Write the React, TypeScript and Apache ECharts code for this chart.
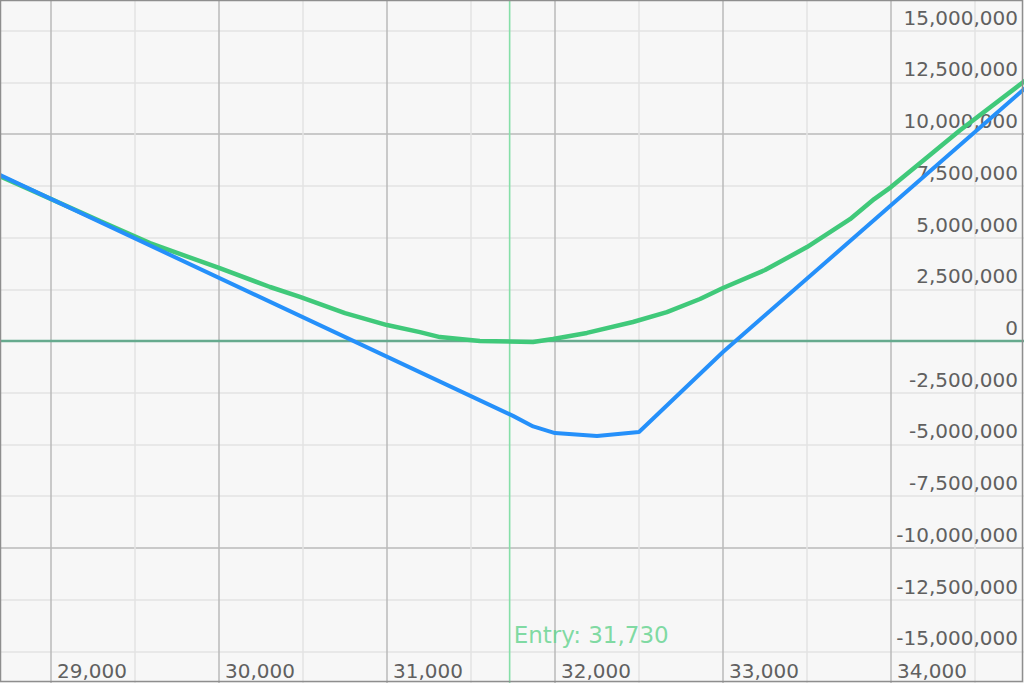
import React, { useEffect, useRef } from "react";
import * as echarts from "echarts";

// Axis ranges / ticks
const xMin = 28500;
const xMax = 35000;
const xStep = 500;
const xLabelStep = 1000;
const yMin = -17500000;
const yMax = 17500000;
const yStep = 2500000;
const yMajorAbs = 10000000;

// Entry
const entryPrice = 31730;
const entryLabel = "Entry: 31,730";
const entryLabelLevel = -14200000;

// Blue series (at expiry)
const bluePrices = [28600, 31750, 31870, 32000, 32250, 32500, 33000, 34000, 35000];
const bluePnl = [8390000, -3620000, -4130000, -4450000, -4590000, -4400000, -530000, 6560000, 13650000];

// Green series (current)
const greenPrices = [
  28600, 28696, 29292, 29589, 30000, 30304, 30482, 30750, 31000, 31196, 31315, 31553, 31869,
  31988, 32190, 32464, 32666, 32863, 33000, 33250, 33500, 33756, 33900, 34000, 34232, 34411, 34786,
  35000,
];
const greenPnl = [
  8360000, 7970000, 5800000, 4730000, 3530000, 2610000, 2130000, 1350000, 770000, 430000, 190000, 0,
  -50000, 100000, 390000, 920000, 1400000, 2030000, 2560000, 3430000, 4540000, 5890000, 6860000,
  7440000, 8990000, 10190000, 12510000, 13830000,
];

const fmt = (v: number) => Math.round(v).toLocaleString("en-US");

export default function App() {
  const ref = useRef<HTMLDivElement>(null);
  useEffect(() => {
    if (!ref.current) return;
    const chart = echarts.init(ref.current, undefined, { renderer: "svg" });

    const yTicks: number[] = [];
    for (let v = yMin; v <= yMax; v += yStep) yTicks.push(v);
    const yColors = yTicks.map((v) => (Math.abs(v) === yMajorAbs ? "#bababa" : "#e3e3e3"));

    const font = "DejaVu Sans";
    chart.setOption({
      animation: false,
      backgroundColor: "#f7f7f7",
      grid: {
        left: -33,
        right: -35,
        top: -21,
        bottom: -20,
        containLabel: false,
        outerBoundsMode: "none",
      },
      xAxis: {
        type: "value",
        min: xMin,
        max: xMax,
        interval: xStep,
        axisLine: { show: false },
        axisTick: { show: false },
        splitLine: { show: true, lineStyle: { color: ["#e3e3e3", "#bababa"], width: 1.5 } },
        axisLabel: {
          inside: true,
          margin: 22,
          align: "left",
          padding: [0, 0, 0, 6],
          color: "#606060",
          fontFamily: font,
          fontSize: 20,
          lineHeight: 20,
          formatter: (v: number) => (v % xLabelStep === 0 && v < xMax ? fmt(v) : ""),
        },
      },
      yAxis: {
        type: "value",
        position: "right",
        min: yMin,
        max: yMax,
        interval: yStep,
        axisLine: { show: false },
        axisTick: { show: false },
        splitLine: { show: true, lineStyle: { color: yColors, width: 1.5 } },
        axisLabel: {
          inside: true,
          margin: 41,
          verticalAlign: "bottom",
          padding: [0, 0, 3, 0],
          color: "#606060",
          fontFamily: font,
          fontSize: 20,
          lineHeight: 20,
          formatter: (v: number) => (v > yMin && v < yMax ? fmt(v) : ""),
        },
      },
      graphic: [
        {
          type: "rect",
          shape: { x: 0.5, y: 0.5, width: 1022, height: 681 },
          style: { fill: "none", stroke: "#8e8e8e", lineWidth: 1.5 },
          z: 100,
          silent: true,
        },
      ],
      series: [
        {
          type: "line",
          silent: true,
          showSymbol: false,
          data: [
            [xMin, 0],
            [xMax, 0],
          ],
          lineStyle: { color: "#66aa8e", width: 2.5 },
        },
        {
          type: "line",
          silent: true,
          showSymbol: false,
          data: [
            [entryPrice, yMin],
            [entryPrice, yMax],
          ],
          lineStyle: { color: "#86dfa8", width: 1.6 },
        },
        {
          type: "line",
          silent: true,
          showSymbol: false,
          data: greenPrices.map((p, i) => [p, greenPnl[i]]),
          lineStyle: { color: "#40c97a", width: 4.5 },
        },
        {
          type: "line",
          silent: true,
          showSymbol: false,
          data: bluePrices.map((p, i) => [p, bluePnl[i]]),
          lineStyle: { color: "#2590fa", width: 4 },
        },
        {
          type: "scatter",
          silent: true,
          symbolSize: 0,
          data: [[entryPrice, entryLabelLevel]],
          label: {
            show: true,
            position: "right",
            distance: 4,
            formatter: entryLabel,
            color: "#5fd28c",
            fontFamily: font,
            fontSize: 23,
          },
        },
      ],
    });
    return () => chart.dispose();
  }, []);
  return (
    <div
      ref={ref}
      style={{ position: "fixed", left: 0, top: 0, width: 1024, height: 683 }}
    />
  );
}
